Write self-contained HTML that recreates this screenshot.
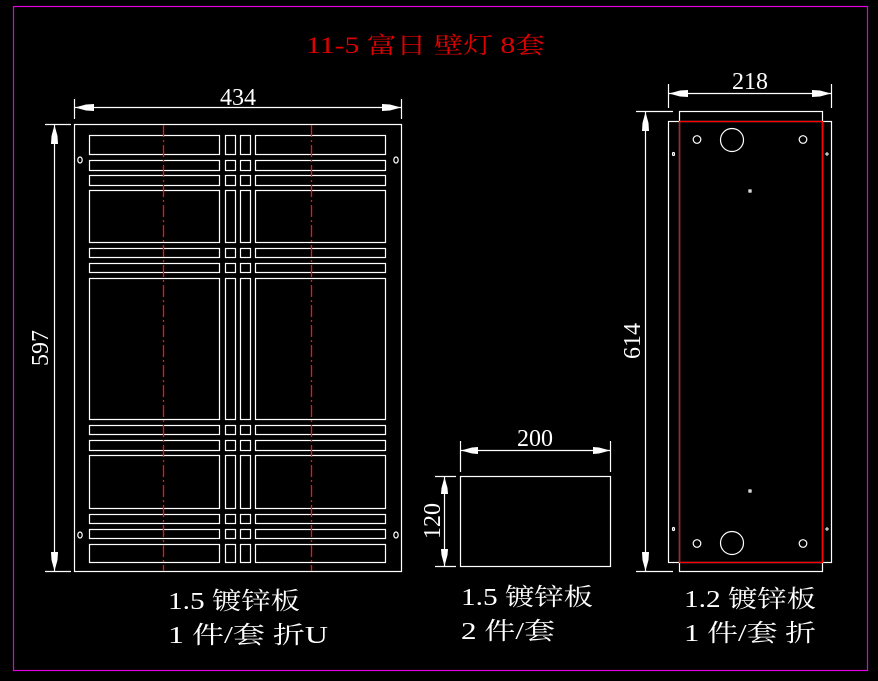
<!DOCTYPE html>
<html><head><meta charset="utf-8"><style>
html,body{margin:0;padding:0;background:#000;}
svg{display:block;}
text{font-family:"Liberation Serif","Noto Serif CJK SC",serif;}
</style></head><body>
<svg width="878" height="681" viewBox="0 0 878 681" xmlns="http://www.w3.org/2000/svg">
<rect x="0" y="0" width="878" height="681" fill="#000"/>
<rect x="13.5" y="6.5" width="854" height="664" fill="none" stroke="#e000e0" stroke-width="1.2"/>
<text x="306" y="53" fill="#e00000" font-size="23" textLength="239" lengthAdjust="spacingAndGlyphs">11-5 富日 壁灯 8套</text>

<g stroke="#fff" stroke-width="1.2" fill="none">
<rect x="74.5" y="124.5" width="327" height="447"/>
<rect x="89.5" y="135.5" width="130" height="19"/><rect x="225.5" y="135.5" width="10" height="19"/><rect x="240.5" y="135.5" width="10" height="19"/><rect x="255.5" y="135.5" width="130" height="19"/>
<rect x="89.5" y="160.5" width="130" height="10"/><rect x="225.5" y="160.5" width="10" height="10"/><rect x="240.5" y="160.5" width="10" height="10"/><rect x="255.5" y="160.5" width="130" height="10"/>
<rect x="89.5" y="175.5" width="130" height="10"/><rect x="225.5" y="175.5" width="10" height="10"/><rect x="240.5" y="175.5" width="10" height="10"/><rect x="255.5" y="175.5" width="130" height="10"/>
<rect x="89.5" y="190.5" width="130" height="52"/><rect x="225.5" y="190.5" width="10" height="52"/><rect x="240.5" y="190.5" width="10" height="52"/><rect x="255.5" y="190.5" width="130" height="52"/>
<rect x="89.5" y="248.5" width="130" height="9"/><rect x="225.5" y="248.5" width="10" height="9"/><rect x="240.5" y="248.5" width="10" height="9"/><rect x="255.5" y="248.5" width="130" height="9"/>
<rect x="89.5" y="263.5" width="130" height="9"/><rect x="225.5" y="263.5" width="10" height="9"/><rect x="240.5" y="263.5" width="10" height="9"/><rect x="255.5" y="263.5" width="130" height="9"/>
<rect x="89.5" y="278.5" width="130" height="141"/><rect x="225.5" y="278.5" width="10" height="141"/><rect x="240.5" y="278.5" width="10" height="141"/><rect x="255.5" y="278.5" width="130" height="141"/>
<rect x="89.5" y="425.5" width="130" height="9"/><rect x="225.5" y="425.5" width="10" height="9"/><rect x="240.5" y="425.5" width="10" height="9"/><rect x="255.5" y="425.5" width="130" height="9"/>
<rect x="89.5" y="440.5" width="130" height="10"/><rect x="225.5" y="440.5" width="10" height="10"/><rect x="240.5" y="440.5" width="10" height="10"/><rect x="255.5" y="440.5" width="130" height="10"/>
<rect x="89.5" y="455.5" width="130" height="53"/><rect x="225.5" y="455.5" width="10" height="53"/><rect x="240.5" y="455.5" width="10" height="53"/><rect x="255.5" y="455.5" width="130" height="53"/>
<rect x="89.5" y="514.5" width="130" height="9"/><rect x="225.5" y="514.5" width="10" height="9"/><rect x="240.5" y="514.5" width="10" height="9"/><rect x="255.5" y="514.5" width="130" height="9"/>
<rect x="89.5" y="529.5" width="130" height="9"/><rect x="225.5" y="529.5" width="10" height="9"/><rect x="240.5" y="529.5" width="10" height="9"/><rect x="255.5" y="529.5" width="130" height="9"/>
<rect x="89.5" y="544.5" width="130" height="18"/><rect x="225.5" y="544.5" width="10" height="18"/><rect x="240.5" y="544.5" width="10" height="18"/><rect x="255.5" y="544.5" width="130" height="18"/>
<ellipse cx="80" cy="160" rx="2.2" ry="3"/><ellipse cx="396" cy="160" rx="2.2" ry="3"/>
<ellipse cx="80" cy="535" rx="2.2" ry="3"/><ellipse cx="396" cy="535" rx="2.2" ry="3"/>
<line x1="74.5" y1="99" x2="74.5" y2="119"/><line x1="401.5" y1="99" x2="401.5" y2="119"/>
<line x1="74.5" y1="107.5" x2="401.5" y2="107.5"/>
<line x1="45" y1="124.5" x2="71" y2="124.5"/><line x1="45" y1="571.5" x2="71" y2="571.5"/>
<line x1="54.5" y1="124.5" x2="54.5" y2="571.5"/>
<rect x="460.5" y="476.5" width="150" height="90"/>
<line x1="460.5" y1="441" x2="460.5" y2="472"/><line x1="610.5" y1="441" x2="610.5" y2="472"/>
<line x1="460.5" y1="450.5" x2="610.5" y2="450.5"/>
<line x1="435" y1="476.5" x2="456" y2="476.5"/><line x1="435" y1="566.5" x2="456" y2="566.5"/>
<line x1="444.5" y1="476.5" x2="444.5" y2="566.5"/>
<rect x="668.5" y="121.5" width="163" height="441"/>
<rect x="679.5" y="111.5" width="143" height="460"/>
<circle cx="697" cy="139.5" r="3.8"/><circle cx="732" cy="140" r="11.5"/><circle cx="803" cy="139.5" r="3.8"/>
<circle cx="697" cy="543.5" r="3.8"/><circle cx="732" cy="543" r="11.5"/><circle cx="803" cy="543.5" r="3.8"/>
<rect x="749" y="190" width="2" height="2"/><rect x="749" y="490" width="2" height="2"/>
<ellipse cx="673.5" cy="154" rx="1" ry="1.5"/><ellipse cx="673.5" cy="529" rx="1" ry="1.5"/>
<line x1="668.5" y1="84" x2="668.5" y2="108"/><line x1="831.5" y1="84" x2="831.5" y2="108"/>
<line x1="668.5" y1="93.5" x2="831.5" y2="93.5"/>
<line x1="636" y1="111.5" x2="673" y2="111.5"/><line x1="636" y1="571.5" x2="673" y2="571.5"/>
<line x1="645.5" y1="111.5" x2="645.5" y2="571.5"/>
</g>
<g stroke="#fff" stroke-width="1"><line x1="825" y1="154" x2="829" y2="154"/><line x1="827" y1="152" x2="827" y2="156"/><line x1="825" y1="529" x2="829" y2="529"/><line x1="827" y1="527" x2="827" y2="531"/></g>
<rect x="679.5" y="121.5" width="143" height="441" fill="none" stroke="#ff0000" stroke-width="1.3"/>
<g stroke="#ff1010" stroke-width="1.3" stroke-dasharray="12,3,2,3">
<line x1="163.5" y1="125" x2="163.5" y2="571"/><line x1="311.5" y1="125" x2="311.5" y2="571"/>
</g>
<g fill="#fff">
<polygon points="75,107.5 86,104.5 94,104 94,111 86,110.5"/>
<polygon points="401,107.5 390,104.5 382,104 382,111 390,110.5"/>
<polygon points="54.5,125 51.5,136 51,144 58,144 57.5,136"/>
<polygon points="54.5,571 51.5,560 51,552 58,552 57.5,560"/>
<polygon points="461,450.5 472,447.5 478,447 478,454 472,453.5"/>
<polygon points="610,450.5 599,447.5 593,447 593,454 599,453.5"/>
<polygon points="444.5,477 441.5,488 441,494 448,494 447.5,488"/>
<polygon points="444.5,566 441.5,555 441,549 448,549 447.5,555"/>
<polygon points="669,93.5 680,90.5 688,90 688,97 680,96.5"/>
<polygon points="831,93.5 820,90.5 812,90 812,97 820,96.5"/>
<polygon points="645.5,112 642.5,123 642,131 649,131 648.5,123"/>
<polygon points="645.5,571 642.5,560 642,552 649,552 648.5,560"/>
</g>
<g fill="#fff" font-size="24">
<text x="238" y="105" text-anchor="middle">434</text>
<text x="535" y="446" text-anchor="middle">200</text>
<text x="750" y="89" text-anchor="middle">218</text>
<text transform="translate(48,348) rotate(-90)" text-anchor="middle">597</text>
<text transform="translate(440,521) rotate(-90)" text-anchor="middle">120</text>
<text transform="translate(640,341) rotate(-90)" text-anchor="middle">614</text>
<text x="168" y="609" textLength="132" lengthAdjust="spacingAndGlyphs">1.5 镀锌板</text>
<text x="168" y="643" textLength="160" lengthAdjust="spacingAndGlyphs">1 件/套 折U</text>
<text x="461" y="605" textLength="132" lengthAdjust="spacingAndGlyphs">1.5 镀锌板</text>
<text x="461" y="639" textLength="94" lengthAdjust="spacingAndGlyphs">2 件/套</text>
<text x="684" y="607" textLength="132" lengthAdjust="spacingAndGlyphs">1.2 镀锌板</text>
<text x="684" y="641" textLength="132" lengthAdjust="spacingAndGlyphs">1 件/套 折</text>
</g>
</svg>
</body></html>
